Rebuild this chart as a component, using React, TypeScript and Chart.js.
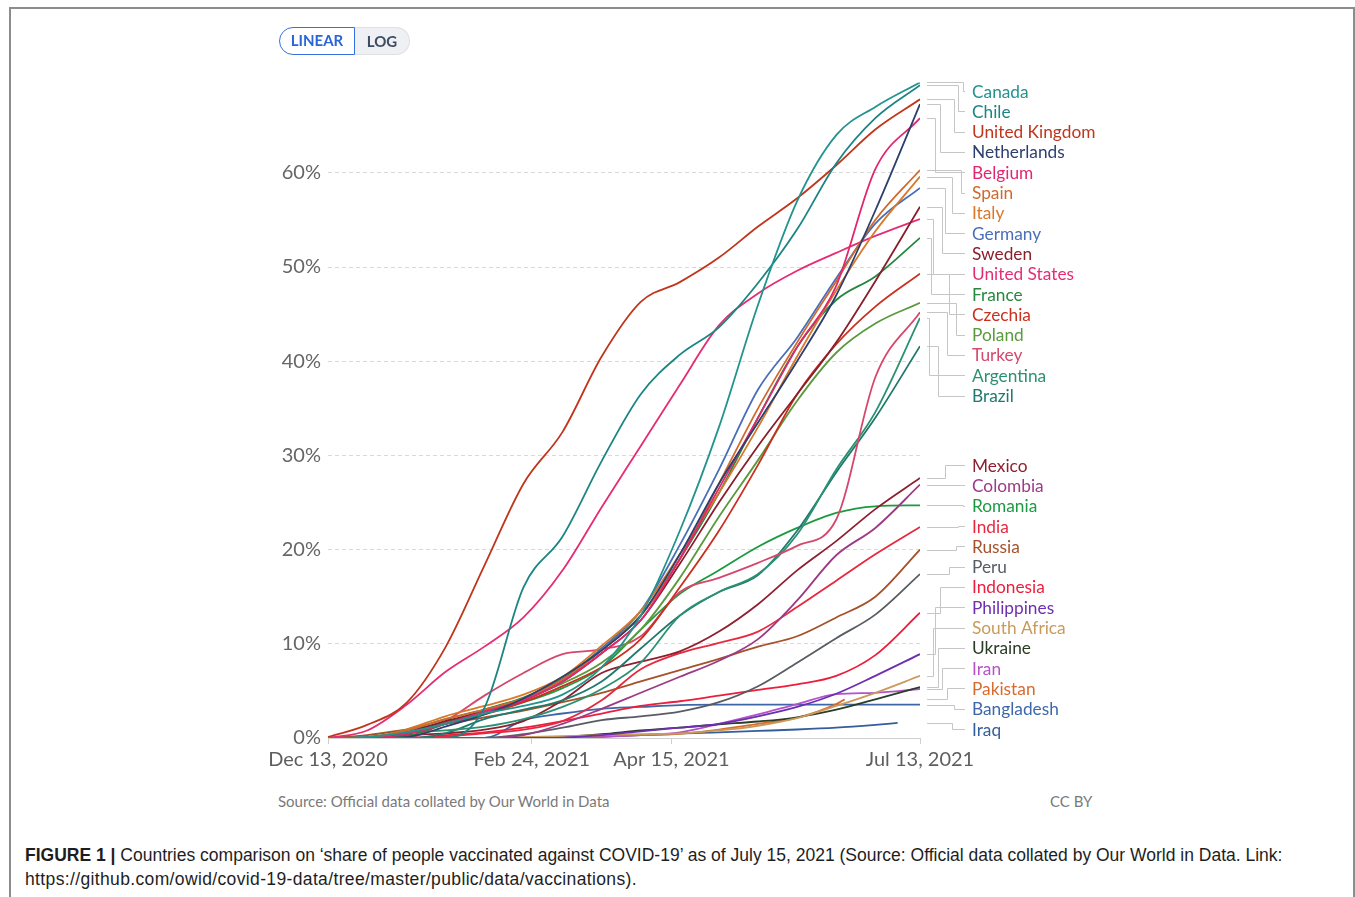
import React, { useEffect, useRef } from "react";
import { Chart, registerables } from "chart.js";

Chart.register(...registerables);

// ---- data (percent of population with at least one dose) ----
const days = [0, 14, 28, 42, 56, 70, 84, 98, 112, 126, 140, 154, 168, 182, 196, 212];
const pakistanDays = [56, 70, 84, 98, 112, 126, 140, 154, 168, 182, 185];
const iraqDays = [84, 98, 112, 126, 140, 154, 168, 182, 196, 204];

const canada = [0, 0.1, 0.6, 1.5, 2.6, 3.4, 4.6, 7.5, 13, 22, 33, 46, 57, 64, 67, 69.6];
const chile = [0, 0, 0, 0, 3.2, 16, 21.4, 29.4, 36.5, 40.7, 43.6, 48.3, 54, 61, 65.8, 69.3];
const unitedKingdom = [0.1, 1.4, 3.7, 9.6, 18.3, 27, 32.5, 40.5, 46.3, 48.4, 51, 54.3, 57.3, 60.8, 64.6, 67.8];
const netherlands = [0, 0, 0.1, 1.2, 2.5, 4.2, 6.5, 9.3, 13, 19.5, 27, 33.5, 40, 47, 56, 67.3];
const belgium = [0, 0, 0.4, 1.5, 2.8, 4, 6, 9, 12.5, 19, 26.5, 34, 41.5, 48, 60.4, 65.8];
const spain = [0, 0.05, 0.8, 2, 3, 4.2, 6.2, 9.3, 13, 19, 27, 35, 42, 48.5, 55, 60.3];
const italy = [0, 0, 0.9, 2.3, 3.4, 4.6, 6.5, 9.8, 13.5, 19.5, 26, 33, 40.5, 47.5, 53.8, 59.6];
const germany = [0, 0.1, 0.6, 1.5, 2.8, 4.1, 6, 9.5, 13.5, 20.5, 28.5, 37, 42.5, 48.8, 54.6, 58.4];
const sweden = [0, 0.05, 0.6, 1.8, 2.8, 4, 6, 9, 12.5, 18.5, 25, 31, 36.5, 42, 48.5, 56.4];
const unitedStates = [0, 0.8, 3.5, 7, 9.7, 12.8, 17.8, 24.5, 31, 37.5, 43.8, 47.2, 49.6, 51.5, 53.3, 55.1];
const france = [0, 0, 0.2, 1.5, 3, 4.3, 6.3, 9.5, 13, 19, 26, 34, 41.5, 46.5, 49, 53.1];
const czechia = [0, 0.05, 0.4, 1.5, 2.5, 3.8, 5.5, 7.5, 10.5, 16, 22, 29, 36.5, 41.8, 45.8, 49.3];
const poland = [0, 0.1, 0.8, 2, 3, 4.2, 5.8, 8, 11.5, 17, 23.5, 29.5, 35.8, 40.9, 44, 46.2];
const turkey = [0, 0, 0, 1.8, 4.5, 6.9, 8.9, 9.4, 10.8, 15.5, 17, 18.6, 20.4, 23.2, 38.3, 45.2];
const argentina = [0, 0, 0.5, 0.8, 1.2, 2, 3.3, 5.2, 8, 13, 15.5, 17.4, 21.6, 28.5, 34.6, 44.6];
const brazil = [0, 0, 0, 0.5, 2, 3, 4, 6, 9.5, 13, 15.5, 17.3, 22, 28.2, 34, 41.6];
const mexico = [0, 0.02, 0.3, 0.5, 0.9, 1.8, 4, 6.9, 8.1, 9.2, 11.3, 14.2, 17.8, 20.9, 24.3, 27.6];
const colombia = [0, 0, 0, 0, 0, 0.3, 1.5, 3.1, 4.8, 6.5, 8.2, 10.5, 14.6, 19.4, 22.3, 26.9];
const romania = [0, 0, 0.6, 1.7, 2.8, 3.8, 5.3, 7.5, 11.5, 15.3, 17.8, 20.3, 22.3, 23.9, 24.6, 24.7];
const india = [0, 0, 0, 0.15, 0.5, 0.9, 1.8, 4, 7.3, 9, 10.1, 11.3, 13.9, 16.7, 19.5, 22.4];
const russia = [0, 0.3, 0.9, 1.5, 2.2, 2.9, 3.8, 4.8, 6, 7.2, 8.4, 9.7, 10.8, 12.8, 15, 20];
const peru = [0, 0, 0, 0, 0, 0.4, 1.1, 1.9, 2.3, 2.8, 3.8, 5.5, 8, 10.6, 13.1, 17.4];
const indonesia = [0, 0, 0, 0.3, 0.6, 1.1, 1.8, 2.6, 3.4, 3.9, 4.5, 5.1, 5.7, 6.6, 8.8, 13.3];
const philippines = [0, 0, 0, 0, 0, 0, 0.05, 0.3, 0.7, 1.1, 1.5, 2.3, 3.3, 4.7, 6.6, 8.9];
const southAfrica = [0, 0, 0, 0, 0, 0.1, 0.2, 0.3, 0.4, 0.5, 0.8, 1.3, 2.1, 3.4, 4.8, 6.6];
const ukraine = [0, 0, 0, 0, 0, 0, 0.1, 0.4, 0.8, 1.1, 1.45, 1.75, 2.2, 3, 4.1, 5.4];
const iran = [0, 0, 0, 0, 0, 0, 0.02, 0.1, 0.3, 0.6, 1.5, 2.5, 3.6, 4.65, 4.8, 5.2];
const pakistan = [0, 0.05, 0.1, 0.2, 0.3, 0.45, 0.9, 1.5, 2.15, 3.6, 4.1];
const bangladesh = [0, 0, 0, 0, 0, 1.9, 2.6, 3.1, 3.3, 3.5, 3.55, 3.55, 3.55, 3.55, 3.55, 3.55];
const iraq = [0.05, 0.15, 0.3, 0.5, 0.6, 0.75, 0.9, 1.1, 1.4, 1.6];

const xTickDays = [0, 73, 123, 212];
const yTickValues = [0, 10, 20, 30, 40, 50, 60];

const series: [string, string, number[], number[]][] = [
  ["Canada", "#23938d", days, canada],
  ["Chile", "#1c8584", days, chile],
  ["United Kingdom", "#c0361d", days, unitedKingdom],
  ["Netherlands", "#2c3f6e", days, netherlands],
  ["Belgium", "#e2266f", days, belgium],
  ["Spain", "#d0692c", days, spain],
  ["Italy", "#d9782a", days, italy],
  ["Germany", "#4a6fb8", days, germany],
  ["Sweden", "#8a1f2c", days, sweden],
  ["United States", "#e52d74", days, unitedStates],
  ["France", "#27883f", days, france],
  ["Czechia", "#c9301f", days, czechia],
  ["Poland", "#5a9a3c", days, poland],
  ["Turkey", "#d6476c", days, turkey],
  ["Argentina", "#2a9272", days, argentina],
  ["Brazil", "#1f7a6d", days, brazil],
  ["Mexico", "#8f2030", days, mexico],
  ["Colombia", "#9c3a85", days, colombia],
  ["Romania", "#1c9a41", days, romania],
  ["India", "#e8283f", days, india],
  ["Russia", "#a5512a", days, russia],
  ["Peru", "#585c63", days, peru],
  ["Indonesia", "#ec1e3c", days, indonesia],
  ["Philippines", "#6c2fb0", days, philippines],
  ["South Africa", "#c99a5b", days, southAfrica],
  ["Ukraine", "#2a3d25", days, ukraine],
  ["Iran", "#b253c9", days, iran],
  ["Pakistan", "#d76a2e", pakistanDays, pakistan],
  ["Bangladesh", "#3e67aa", days, bangladesh],
  ["Iraq", "#345d9c", iraqDays, iraq],
];

const MONTHS = ["Jan", "Feb", "Mar", "Apr", "May", "Jun", "Jul", "Aug", "Sep", "Oct", "Nov", "Dec"];
function dayLabel(d: number) {
  const dt = new Date(Date.UTC(2020, 11, 13) + d * 86400000);
  return `${MONTHS[dt.getUTCMonth()]} ${dt.getUTCDate()}, ${dt.getUTCFullYear()}`;
}

const endLabels = {
  id: "endLabels",
  afterDatasetsDraw(chart: any) {
    const { ctx, chartArea, scales } = chart;
    const yS = scales.y;
    const items = chart.data.datasets.map((ds: any) => {
      const last = ds.data[ds.data.length - 1];
      return { name: ds.label, color: ds.borderColor, ideal: yS.getPixelForValue(last.y), y: 0 };
    });
    items.sort((a: any, b: any) => a.ideal - b.ideal);
    const gap = 20.3;
    const minY = chartArea.top + 8.6;
    const maxY = chartArea.bottom - 9;
    const place = (b: any) => {
      const n = b.items.length;
      const mean = b.items.reduce((s: number, it: any) => s + it.ideal, 0) / n;
      let top = mean - ((n - 1) * gap) / 2;
      top = Math.max(minY, Math.min(maxY - (n - 1) * gap, top));
      b.top = top;
      b.bottom = top + (n - 1) * gap;
    };
    const blocks: any[] = items.map((it: any) => ({ items: [it] }));
    blocks.forEach(place);
    let merged = true;
    while (merged) {
      merged = false;
      for (let i = 0; i < blocks.length - 1; i++) {
        if (blocks[i].bottom + gap > blocks[i + 1].top) {
          blocks[i].items = blocks[i].items.concat(blocks[i + 1].items);
          blocks.splice(i + 1, 1);
          place(blocks[i]);
          merged = true;
          break;
        }
      }
    }
    const x0 = chartArea.right + 7;
    const x1 = chartArea.right + 45;
    const tx = chartArea.right + 52;
    ctx.save();
    blocks.forEach((b: any) => {
      b.items.forEach((it: any, k: number) => (it.y = b.top + k * gap));
      const ranked = [...b.items].sort((p: any, q: any) => Math.abs(p.y - p.ideal) - Math.abs(q.y - q.ideal));
      ranked.forEach((it: any, r: number) => {
        const xm = Math.round(x1 - 2 - Math.min(r * 2.3, 34)) + 0.5;
        const y0 = Math.round(it.ideal) + 0.5;
        const y1 = Math.round(it.y) + 0.5;
        ctx.strokeStyle = "#c6c6c6";
        ctx.lineWidth = 1;
        ctx.beginPath();
        ctx.moveTo(x0, y0);
        ctx.lineTo(xm, y0);
        ctx.lineTo(xm, y1);
        ctx.lineTo(x1, y1);
        ctx.stroke();
      });
    });
    ctx.font = '17.3px Lato, "Open Sans", sans-serif';
    ctx.textAlign = "left";
    ctx.textBaseline = "middle";
    items.forEach((it: any) => {
      ctx.fillStyle = it.color;
      ctx.fillText(it.name, tx, it.y + 1);
    });
    ctx.restore();
  },
};

function VaccChart() {
  const ref = useRef<HTMLCanvasElement | null>(null);
  useEffect(() => {
    if (!ref.current) return;
    const chart = new Chart(ref.current, {
      type: "line",
      data: {
        datasets: series.map(([name, color, ds, vals]) => ({
          label: name,
          data: ds.map((d, i) => ({ x: d, y: vals[i] })),
          borderColor: color,
          backgroundColor: color,
          borderWidth: 1.8,
          pointRadius: 0,
          cubicInterpolationMode: "monotone" as const,
          fill: false,
        })),
      },
      options: {
        animation: false,
        responsive: false,
        layout: { padding: { left: 0, right: 435, top: 82.4, bottom: 2 } },
        plugins: { legend: { display: false }, tooltip: { enabled: false } },
        scales: {
          x: {
            type: "linear",
            min: 0,
            max: 212,
            afterBuildTicks: (s: any) => {
              s.ticks = xTickDays.map((v) => ({ value: v }));
            },
            afterFit: (s: any) => {
              s.height = 40;
            },
            ticks: {
              autoSkip: false,
              maxRotation: 0,
              padding: 4,
              color: "#5e5e5e",
              font: { family: "Lato", size: 20 },
              callback: (v: any) => dayLabel(Number(v)),
            },
            grid: { drawOnChartArea: false, drawTicks: true, tickLength: 6, color: "#cfcfcf" },
            border: { display: true, color: "#cfcfcf" },
          },
          y: {
            type: "linear",
            min: 0,
            max: 69.6,
            afterBuildTicks: (s: any) => {
              s.ticks = yTickValues.map((v) => ({ value: v }));
            },
            afterFit: (s: any) => {
              s.width = 328;
            },
            ticks: {
              padding: 7,
              color: "#666666",
              font: { family: "Lato", size: 20 },
              callback: (v: any) => `${v}%`,
            },
            grid: { drawTicks: false, color: "#d9d9d9", lineWidth: 1 },
            border: {
              display: false,
              dash: (c: any) => (c.tick && c.tick.value === 0 ? [] : [4, 3]),
            },
          },
        },
      },
      plugins: [endLabels],
    });
    return () => chart.destroy();
  }, []);
  return (
    <canvas
      ref={ref}
      width={1355}
      height={780}
      style={{ position: "absolute", left: 0, top: 0, width: 1355, height: 780 }}
    />
  );
}

export default function App() {
  return (
    <div
      style={{
        position: "fixed",
        left: 0,
        top: 0,
        width: 1355,
        height: 897,
        background: "#fff",
        overflow: "hidden",
        fontFamily: "Lato, sans-serif",
      }}
    >
      <div
        style={{
          position: "absolute",
          left: 9,
          top: 7,
          width: 1346,
          height: 920,
          border: "2px solid #8c8c8c",
          boxSizing: "border-box",
        }}
      />
      <VaccChart />
      <div style={{ position: "absolute", left: 279, top: 27, display: "flex", height: 28 }}>
        <div
          style={{
            width: 76,
            height: 28,
            boxSizing: "border-box",
            border: "1.5px solid #3570e0",
            borderRadius: "14px 0 0 14px",
            background: "#fff",
            color: "#2a66d8",
            fontWeight: 700,
            fontSize: 15,
            lineHeight: "25px",
            textAlign: "center",
          }}
        >
          LINEAR
        </div>
        <div
          style={{
            width: 55,
            height: 28,
            boxSizing: "border-box",
            border: "1px solid #dde1e6",
            borderLeft: "none",
            borderRadius: "0 14px 14px 0",
            background: "#eef0f3",
            color: "#3d4b63",
            fontWeight: 700,
            fontSize: 15,
            lineHeight: "26px",
            textAlign: "center",
          }}
        >
          LOG
        </div>
      </div>
      <div style={{ position: "absolute", left: 278, top: 792, fontSize: 15, color: "#7a7a7a" }}>
        Source: Official data collated by Our World in Data
      </div>
      <div style={{ position: "absolute", left: 1050, top: 792, fontSize: 15, color: "#7a7a7a" }}>CC BY</div>
      <div
        style={{
          position: "absolute",
          left: 25,
          top: 843,
          width: 1320,
          fontFamily: '"Liberation Sans", Arial, sans-serif',
          fontSize: 17.5,
          lineHeight: "24px",
          color: "#1e1e1e",
          whiteSpace: "nowrap",
        }}
      >
        <b>FIGURE 1 |</b> Countries comparison on ‘share of people vaccinated against COVID-19’ as of July 15, 2021
        (Source: Official data collated by Our World in Data. Link:
        <br />
        <span style={{ letterSpacing: "0.36px" }}>
          https://github.com/owid/covid-19-data/tree/master/public/data/vaccinations).
        </span>
      </div>
    </div>
  );
}
